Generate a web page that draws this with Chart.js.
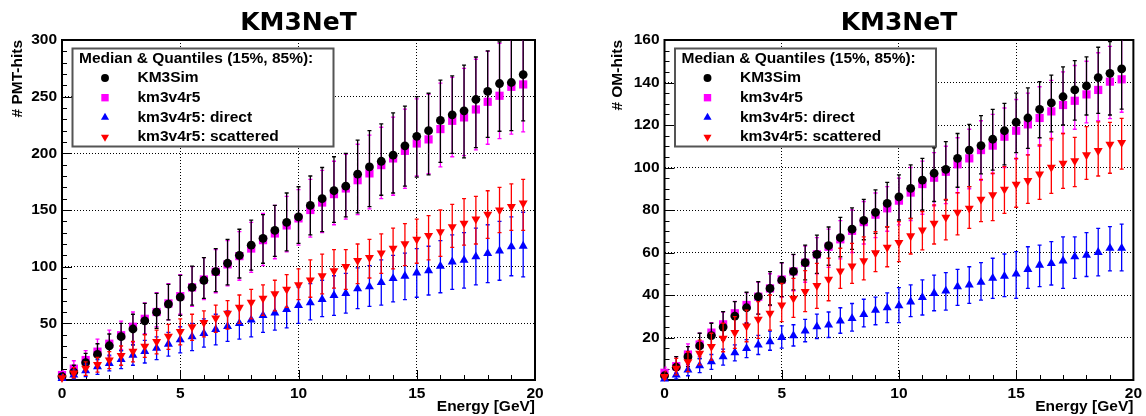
<!DOCTYPE html>
<html>
<head>
<meta charset="utf-8">
<script src="https://cdn.jsdelivr.net/npm/chart.js@4.4.0/dist/chart.umd.min.js"></script>
<style>
    html, body { margin: 0; padding: 0; background: #fff; }
    #wrap { position: relative; width: 1146px; height: 416px; }
    canvas { position: absolute; top: 0; }
    #pmt { left: 0; }
    #om { left: 573px; }
</style>
</head>
<body>
<div id="wrap">
    <canvas id="pmt" width="573" height="416"></canvas>
    <canvas id="om" width="573" height="416"></canvas>
</div>
<script>
const energia = [0, 0.5, 1, 1.5, 2, 2.5, 3, 3.5, 4, 4.5, 5, 5.5, 6, 6.5, 7, 7.5, 8, 8.5, 9, 9.5,
    10, 10.5, 11, 11.5, 12, 12.5, 13, 13.5, 14, 14.5, 15, 15.5, 16, 16.5, 17, 17.5, 18, 18.5, 19, 19.5];

const series = ['KM3Sim', 'km3v4r5', 'km3v4r5: direct', 'km3v4r5: scattered'];
const tituloLeyenda = 'Median & Quantiles (15%, 85%):';

// # PMT-hits: mediana, cuantil 15% y cuantil 85%
const pmtSim = [3, 7, 15.3, 22.6, 30.2, 38.2, 45, 52.2, 59.8, 67, 73.2, 81.8, 88, 95.6, 103, 110, 119, 125, 132, 139,
    144, 154, 160, 167, 171, 181.6, 188, 193, 198.4, 206.6, 215, 220, 229, 234, 237.5, 247.5, 254.6, 261.6, 262.5, 269.5];
const pmtSimLo = [0.5, 2, 8, 12, 19, 26, 31, 40, 45.6, 53, 57, 66, 72, 78, 84, 90, 97, 103, 109, 114,
    120.5, 128, 131, 139, 144, 147.5, 153, 163, 165, 171, 179, 181, 192, 200, 196, 205, 214, 219.5, 220, 228.6];
const pmtSimHi = [6, 13, 23.5, 32, 40.6, 50, 58, 67.6, 76.4, 84.4, 92.3, 100.5, 108, 116, 124, 133, 141, 146, 154, 165,
    170.5, 180, 187.5, 197, 200, 211.6, 220, 226, 235.7, 241.6, 250, 253, 264.6, 268.4, 277.8, 285, 290.4, 298.4, 306, 315];

const pmtV4 = [4.4, 10, 17.6, 25, 32, 39.5, 47, 54, 60, 67.6, 74, 81.7, 88.7, 95.5, 102, 109.3, 116, 123.4, 129.3, 136.4,
    142.6, 150, 156.6, 164, 169, 176.3, 182.3, 189.6, 195.5, 202.2, 208.7, 212.3, 221.4, 228.7, 231.7, 238.7, 245.5, 250.8, 258.7, 260.8];
const pmtV4Lo = [1, 4, 10, 14, 21, 27, 33, 41, 47, 53, 58, 65, 71, 77, 83, 88, 95, 101, 107, 113,
    119, 126, 130, 137, 142, 146, 151, 160, 163, 169, 180, 182, 188, 197, 198, 203, 208, 213, 217, 219];
const pmtV4Hi = [8, 17, 26, 36, 44, 52, 60, 68, 77, 85, 93, 100, 108, 115, 123, 131, 139, 147, 154, 162,
    168, 177, 185, 193, 199, 208, 216, 223, 232, 239, 248, 252, 262, 267, 275, 283, 290, 297, 303, 310];

const pmtDir = [1.5, 4.4, 8.2, 11.8, 14.7, 18.2, 22, 25.3, 28, 31.7, 35.5, 38.2, 41.1, 44.6, 47.3, 50, 53, 57, 59.3, 62.3,
    65.8, 68.2, 71.1, 74.6, 76.4, 80.5, 82.3, 86.1, 89.6, 91.7, 94.6, 96.4, 100.5, 104.3, 105.8, 108.8, 111.7, 114, 117.6, 118.2];
const pmtDirLo = [0, 1, 3, 5, 8, 10, 13, 15, 18, 21, 24, 26, 29, 31, 34, 36, 38, 42, 44, 46,
    50, 53, 56, 57, 59, 63, 65, 66, 69, 71, 73, 75, 77, 80, 81, 84, 86, 88, 92, 91];
const pmtDirHi = [4, 9, 14, 18, 22, 26, 31, 35, 38, 42, 47, 50, 54, 58, 61, 64, 68, 72, 75, 79,
    82, 85, 88, 92, 94, 99, 101, 106, 110, 112, 116, 118, 123, 128, 130, 134, 137, 140, 144, 148];

const pmtSca = [2, 6, 10.3, 13.5, 17.6, 21.5, 25.3, 29.7, 33.8, 38.5, 42.6, 47, 50.6, 54.7, 58.8, 64, 68.5, 72, 76, 80,
    84, 88.2, 91.8, 96.3, 100, 105.3, 108, 112, 116.1, 120.2, 124.1, 127.5, 130.8, 135.2, 138.2, 142, 146.2, 150, 152.9, 156];
const pmtScaLo = [0.5, 2, 4, 7, 10, 13, 16, 20, 23, 27, 31, 35, 38, 42, 45, 50, 54, 57, 61, 64,
    71, 73, 76, 81, 80, 85, 90, 94, 98, 101, 103, 106, 109, 117, 119, 120, 125, 130, 132, 132];
const pmtScaHi = [5, 11, 16, 20, 25, 30, 34, 40, 44, 49, 54, 58, 61, 66, 70, 75, 80, 84, 88, 93,
    98, 106, 111, 115, 115, 120, 124, 129, 134, 138, 142, 145, 150, 155, 160, 162, 167, 170, 173, 177];

// # OM-hits
const omSim = [2, 6, 11, 16.1, 20.9, 24.9, 30.1, 34, 39.2, 43.1, 47, 51.1, 55.2, 59.1, 63.2, 67, 71, 75.1, 78.9, 83.1,
    86.2, 90.2, 94.1, 97.3, 99.1, 104.3, 108.2, 110.3, 113.3, 117.3, 121.3, 123.3, 127.4, 130.4, 133.3, 136.5, 138.4, 142.3, 144.3, 146.4];
const omSimLo = [0.5, 3, 6.3, 10.2, 15.7, 18.8, 22.7, 26.7, 31, 35.3, 39.2, 42.4, 47.1, 50.2, 54, 58, 61.5, 66, 69, 72,
    75.3, 76, 80, 84, 84.7, 90.7, 91, 97, 98.8, 101.2, 107, 109, 114, 116.8, 120, 122.3, 124.7, 125.5, 124.7, 127.5];
const omSimHi = [4, 11, 15.7, 22, 26.7, 32.2, 36.9, 41.3, 46.3, 51, 55.2, 59.1, 63.5, 68.2, 72, 76.5, 81, 85, 89.5, 93,
    96.5, 101.2, 104.3, 109.3, 112.2, 116, 120.3, 124.4, 127.4, 130.2, 135, 137.5, 140.4, 143.5, 147.4, 150.3, 152.1, 156.6, 159.2, 164];

const omV4 = [3.4, 6.5, 12, 16.7, 22.3, 26.2, 31.4, 35.3, 39.2, 43.1, 47.3, 51.1, 55.2, 59.1, 62.7, 66.2, 70.2, 74.3, 77.8, 80.8,
    84.4, 88.2, 92.2, 95.2, 98, 101.5, 104.3, 108.2, 110.3, 114.5, 117.3, 120.3, 123.3, 126.4, 129.4, 131.4, 134.4, 136.5, 140.4, 141.5];
const omV4Lo = [1, 3.5, 7, 11, 16, 19, 23, 27, 31, 35, 39, 42, 46, 50, 53, 57, 60, 64, 67, 70,
    73, 75, 78, 82, 83, 88, 90, 94, 97, 100, 104, 106, 110, 113, 116, 118, 121, 122, 123, 126];
const omV4Hi = [6, 11, 17, 22, 27, 32, 37, 41, 46, 50, 55, 59, 63, 67, 71, 75, 80, 84, 88, 91,
    95, 100, 103, 107, 110, 114, 118, 122, 125, 128, 132, 135, 138, 141, 145, 148, 150, 154, 157, 161];

const omDir = [0.5, 2.4, 4.7, 6.7, 8.6, 11, 12.9, 14.9, 16.5, 18, 20.1, 20.9, 23.1, 25.1, 25.9, 27.8, 29, 30.9, 32.9, 34,
    35, 36.8, 38.9, 40.8, 41.9, 43.9, 44.7, 46, 47.9, 48.9, 49.9, 52.1, 54.1, 54.9, 56.1, 58, 58.8, 60.1, 62, 62];
const omDirLo = [0, 0.5, 2, 3.5, 5, 7, 9, 10.5, 12, 14, 15, 16, 18, 19.5, 20, 22, 23, 25, 26, 27,
    27, 29.8, 30.6, 32.6, 32.9, 35.1, 36.1, 37.6, 38.4, 39.2, 38.4, 43.1, 43.9, 44.7, 43.1, 47.8, 48.7, 49, 51.4, 51.4];
const omDirHi = [2, 5, 7.5, 10, 12, 14.5, 16.5, 19, 21, 23, 25.5, 26, 28.5, 31, 32, 34, 36, 38, 39, 41,
    43.5, 44.8, 47.1, 49.4, 50.5, 52.1, 53.3, 55.2, 57.3, 59.3, 60.4, 62.7, 63.5, 65.1, 67.4, 67.4, 69.4, 71.4, 72.2, 73.4];

const omSca = [1.6, 5.5, 8.6, 12.5, 15.7, 19.6, 22.3, 25.4, 28.6, 31.4, 35.3, 38.4, 41.6, 44.4, 47.4, 51.3, 53.6, 56.1, 59.8, 62.4,
    64.7, 67.8, 70.6, 73.7, 76.6, 78.9, 80.8, 85, 87.1, 89.7, 92.1, 93.8, 96.9, 100.1, 102, 103.1, 105.9, 107.9, 110.9, 111.7];
const omScaLo = [0.3, 2.4, 3.9, 7.1, 9.4, 13.3, 14.9, 18, 19.6, 23.5, 27.5, 29.5, 32.2, 33.7, 37.3, 43.1, 45.5, 47.1, 51, 53.3,
    55.7, 59.3, 61.2, 64, 65.9, 68.3, 71.4, 74.5, 75, 78.4, 81.3, 83.1, 85, 87.8, 90.2, 91, 94.4, 96, 97.3, 99.2];
const omScaHi = [4, 10.2, 13.3, 18.8, 22, 26.7, 29.8, 32.9, 36.9, 40, 45.5, 47.8, 51.5, 54.9, 57.3, 62, 64.3, 67.4, 69.8, 72.2,
    74.5, 76.1, 79.3, 82.4, 85, 88.2, 91, 94.4, 97.3, 100.4, 104.3, 105.9, 110.6, 113.7, 116, 114.2, 119.2, 121.5, 121.2, 123.1];

const fuente = "'Liberation Sans', Arial, Helvetica, sans-serif";

// estilo de cada serie (marcador y barra)
const estilos = [
    { color: '#000000', pointStyle: 'circle', radius: 4.4, rotation: 0, order: 2 },
    { color: '#ff00ff', pointStyle: 'rect', radius: 5.8, rotation: 0, order: 3 },
    { color: '#0000ff', pointStyle: 'triangle', radius: 5.2, rotation: 0, order: 1 },
    { color: '#ff0000', pointStyle: 'triangle', radius: 5.2, rotation: 180, order: 0 }
];

function puntos(valores) {
    return energia.map(function (e, i) { return { x: e, y: valores[i] }; });
}

function dataset(i, med, lo, hi) {
    const s = estilos[i];
    return {
        label: series[i],
        data: puntos(med),
        lo: lo,
        hi: hi,
        order: s.order,
        pointStyle: s.pointStyle,
        pointRadius: s.radius,
        pointRotation: s.rotation,
        backgroundColor: s.color,
        borderColor: s.color,
        borderWidth: 0,
        showLine: false,
        clip: false
    };
}

// barras de cuantiles, dibujadas justo antes de los marcadores de cada serie
const barrasError = {
    id: 'barrasError',
    beforeDatasetDraw(chart, args) {
        const ds = chart.data.datasets[args.index];
        if (!ds.lo) return;
        const ctx = chart.ctx;
        const xs = chart.scales.x;
        const ys = chart.scales.y;
        const a = chart.chartArea;
        ctx.save();
        ctx.beginPath();
        ctx.rect(a.left, a.top, a.right - a.left, a.bottom - a.top);
        ctx.clip();
        ctx.strokeStyle = ds.borderColor;
        ctx.lineWidth = 1.3;
        ctx.beginPath();
        for (let i = 0; i < ds.data.length; i++) {
            const x = xs.getPixelForValue(ds.data[i].x);
            const y1 = ys.getPixelForValue(ds.lo[i]);
            const y2 = ys.getPixelForValue(ds.hi[i]);
            ctx.moveTo(x, y1);
            ctx.lineTo(x, y2);
            ctx.moveTo(x - 2, y1);
            ctx.lineTo(x + 2, y1);
            ctx.moveTo(x - 2, y2);
            ctx.lineTo(x + 2, y2);
        }
        ctx.stroke();
        ctx.restore();
    }
};

// marco y marcas hacia dentro (estilo ROOT)
const marco = {
    id: 'marco',
    beforeDatasetsDraw(chart, args, opts) {
        const ctx = chart.ctx;
        const a = chart.chartArea;
        const xs = chart.scales.x;
        const ys = chart.scales.y;
        ctx.save();
        ctx.strokeStyle = '#000';
        ctx.lineWidth = 1;
        ctx.beginPath();
        for (let v = xs.min; v <= xs.max + 1e-9; v += opts.menorX) {
            const x = Math.round(xs.getPixelForValue(v)) + 0.5;
            const largo = Math.abs(v % 5) < 1e-9 ? 10 : 5;
            ctx.moveTo(x, a.bottom);
            ctx.lineTo(x, a.bottom - largo);
        }
        for (let v = ys.min; v <= ys.max + 1e-9; v += opts.menorY) {
            const y = Math.round(ys.getPixelForValue(v)) + 0.5;
            const largo = Math.abs(v % opts.mayorY) < 1e-9 ? 10 : 5;
            ctx.moveTo(a.left, y);
            ctx.lineTo(a.left + largo, y);
        }
        ctx.stroke();
        ctx.lineWidth = 2;
        ctx.strokeRect(a.left, a.top, a.right - a.left, a.bottom - a.top);
        ctx.restore();
    }
};

const leyenda = {
    id: 'leyenda',
    afterDraw(chart) {
        const ctx = chart.ctx;
        const a = chart.chartArea;
        const x0 = a.left + 10.5;
        const y0 = a.top + 8.5;
        ctx.save();
        ctx.fillStyle = '#fff';
        ctx.fillRect(x0, y0, 261, 98);
        ctx.strokeStyle = '#555';
        ctx.lineWidth = 2;
        ctx.strokeRect(x0, y0, 261, 98);
        ctx.font = 'bold 15.5px ' + fuente;
        ctx.textBaseline = 'middle';
        ctx.textAlign = 'left';
        ctx.fillStyle = '#000';
        ctx.fillText(tituloLeyenda, x0 + 6.5, y0 + 10.5);
        chart.data.datasets.forEach(function (ds, i) {
            const y = y0 + 29.5 + i * 19.7;
            ctx.fillStyle = ds.backgroundColor;
            Chart.helpers.drawPoint(ctx, {
                pointStyle: ds.pointStyle,
                radius: ds.pointRadius * 0.9,
                rotation: ds.pointRotation,
                borderWidth: 0
            }, x0 + 32.5, y);
            ctx.fillStyle = '#000';
            ctx.fillText(ds.label, x0 + 65, y);
        });
        ctx.restore();
    }
};

function grafico(id, datasets, cfg) {
    const tickFont = { family: fuente, weight: 'bold', size: 15.5 };
    new Chart(document.getElementById(id), {
        type: 'scatter',
        data: { datasets: datasets },
        plugins: [barrasError, marco, leyenda],
        options: {
            responsive: false,
            animation: false,
            events: [],
            layout: { padding: { left: cfg.padIzq, right: cfg.padDer, top: 0, bottom: 0 } },
            plugins: {
                legend: { display: false },
                tooltip: { enabled: false },
                title: {
                    display: true,
                    text: 'KM3NeT',
                    fullSize: false,
                    color: '#000',
                    font: { family: "'DejaVu Sans', sans-serif", weight: 'bold', size: 25 },
                    padding: { top: 8, bottom: 2 }
                },
                marco: { menorX: 1, menorY: cfg.menorY, mayorY: cfg.paso }
            },
            scales: {
                x: {
                    type: 'linear',
                    min: 0,
                    max: 20,
                    afterFit: function (s) { s.height = 36; },
                    ticks: { stepSize: 5, color: '#000', font: tickFont, padding: 4, maxRotation: 0 },
                    grid: { color: '#000', lineWidth: 1, drawTicks: false },
                    border: { display: false, dash: [1, 2] },
                    title: {
                        display: true,
                        text: 'Energy [GeV]',
                        align: 'end',
                        color: '#000',
                        font: tickFont,
                        padding: { top: 0, bottom: 0 }
                    }
                },
                y: {
                    min: 0,
                    max: cfg.max,
                    afterFit: function (s) { s.width = cfg.anchoY; },
                    ticks: {
                        stepSize: cfg.paso,
                        color: '#000',
                        font: tickFont,
                        padding: 5,
                        callback: function (v) { return v === 0 ? '' : v; }
                    },
                    grid: { color: '#000', lineWidth: 1, drawTicks: false },
                    border: { display: false, dash: [1, 2] },
                    title: {
                        display: true,
                        text: cfg.titulo,
                        align: 'end',
                        color: '#000',
                        font: tickFont,
                        padding: { top: cfg.padTitulo, bottom: 0 }
                    }
                }
            }
        }
    });
}

grafico('pmt', [
    dataset(0, pmtSim, pmtSimLo, pmtSimHi),
    dataset(1, pmtV4, pmtV4Lo, pmtV4Hi),
    dataset(2, pmtDir, pmtDirLo, pmtDirHi),
    dataset(3, pmtSca, pmtScaLo, pmtScaHi)
], { max: 300, paso: 50, menorY: 10, titulo: '# PMT-hits', padIzq: 0, anchoY: 62, padDer: 38, padTitulo: 8 });

grafico('om', [
    dataset(0, omSim, omSimLo, omSimHi),
    dataset(1, omV4, omV4Lo, omV4Hi),
    dataset(2, omDir, omDirLo, omDirHi),
    dataset(3, omSca, omScaLo, omScaHi)
], { max: 160, paso: 20, menorY: 5, titulo: '# OM-hits', padIzq: 30, anchoY: 61.5, padDer: 9.5, padTitulo: 5 });
</script>
</body>
</html>
